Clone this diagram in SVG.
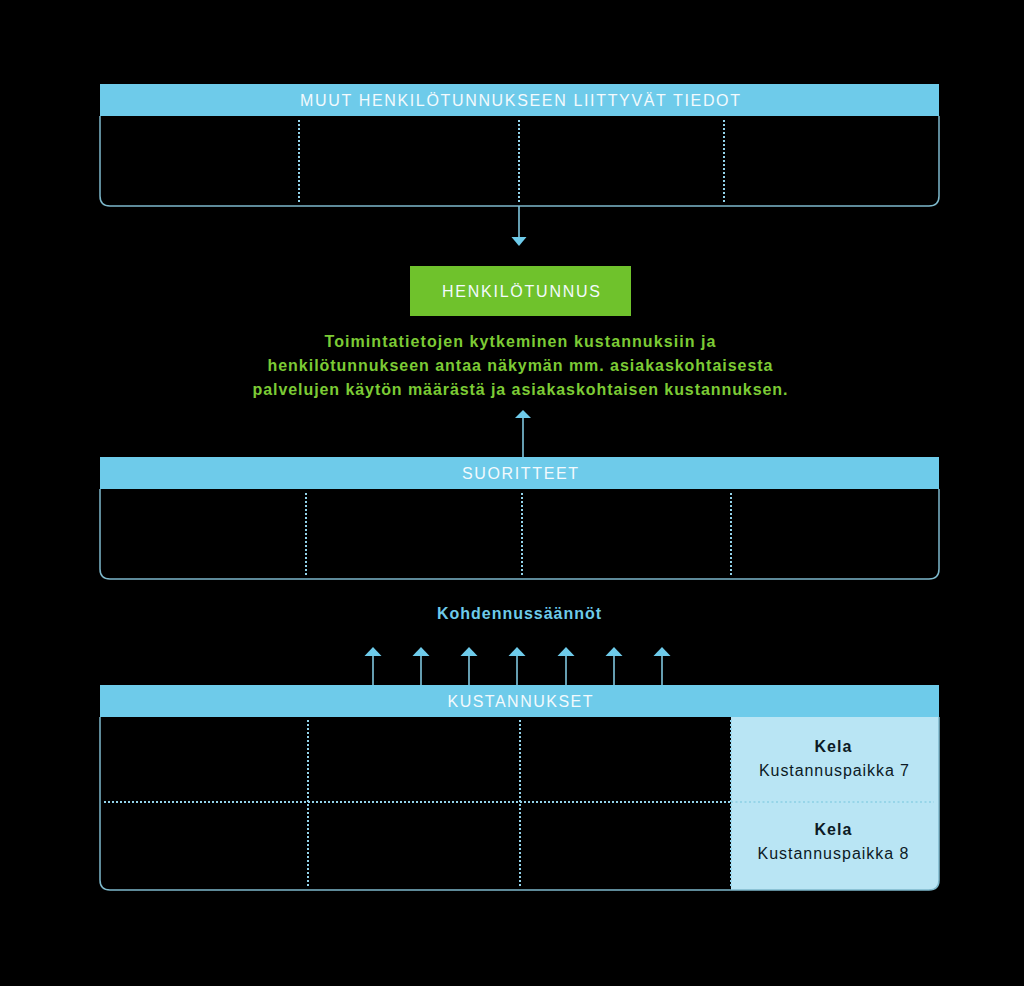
<svg xmlns="http://www.w3.org/2000/svg" width="1024" height="986" viewBox="0 0 1024 986">
<defs>
<style>
.hdr{fill:#6ECBEA}
.outline{fill:none;stroke:#7DB8CB;stroke-width:1.5}
.dot{stroke:#93D3EA;stroke-width:2;stroke-dasharray:2 2;fill:none}
.conn{stroke:#7FC6DE;stroke-width:1.6;fill:none}
.head{fill:#6ECBEA}
.htxt{font-family:"Liberation Sans",Arial,sans-serif;font-size:16px;fill:#F3FAFD;text-anchor:middle}
.gtxt{font-family:"Liberation Sans",Arial,sans-serif;font-size:16px;font-weight:bold;fill:#7CCB35;text-anchor:middle}
.btxt{font-family:"Liberation Sans",Arial,sans-serif;font-size:16px;font-weight:bold;fill:#6ECBEA;text-anchor:middle}
.ktxt{font-family:"Liberation Sans",Arial,sans-serif;font-size:16px;fill:#0C1A24;text-anchor:middle}
</style>
</defs>
<rect width="1024" height="986" fill="#000"/>

<g id="muut-tiedot">
<rect class="hdr" x="100" y="84" width="839" height="32"/>
<path class="outline" d="M100,116 V196 Q100,206 110,206 H929 Q939,206 939,196 V116"/>
<line class="dot" x1="299" y1="120" x2="299" y2="203"/>
<line class="dot" x1="519" y1="120" x2="519" y2="203"/>
<line class="dot" x1="724" y1="120" x2="724" y2="203"/>
<text class="htxt" x="520" y="106" textLength="440" lengthAdjust="spacing">MUUT HENKILÖTUNNUKSEEN LIITTYVÄT TIEDOT</text>
</g>

<g id="henkilotunnus">
<rect x="410" y="266" width="221" height="50" fill="#6FC22C"/>
<text class="htxt" x="521" y="297" textLength="158" lengthAdjust="spacing">HENKILÖTUNNUS</text>
</g>

<g id="selite">
<text class="gtxt" x="520" y="347" textLength="391" lengthAdjust="spacing">Toimintatietojen kytkeminen kustannuksiin ja</text>
<text class="gtxt" x="520" y="371" textLength="505" lengthAdjust="spacing">henkilötunnukseen antaa näkymän mm. asiakaskohtaisesta</text>
<text class="gtxt" x="520" y="395" textLength="535" lengthAdjust="spacing">palvelujen käytön määrästä ja asiakaskohtaisen kustannuksen.</text>
</g>

<g id="suoritteet">
<rect class="hdr" x="100" y="457" width="839" height="32"/>
<path class="outline" d="M100,489 V569 Q100,579 110,579 H929 Q939,579 939,569 V489"/>
<line class="dot" x1="306" y1="493" x2="306" y2="575"/>
<line class="dot" x1="522" y1="493" x2="522" y2="575"/>
<line class="dot" x1="731" y1="493" x2="731" y2="575"/>
<text class="htxt" x="520" y="479" textLength="116" lengthAdjust="spacing">SUORITTEET</text>
</g>

<g id="kohdennussaannot">
<text class="btxt" x="519" y="619" textLength="164" lengthAdjust="spacing">Kohdennussäännöt</text>
</g>

<g id="kustannukset">
<path fill="#B9E5F4" d="M731,717 H939 V880 Q939,890 929,890 H731 Z"/>
<rect class="hdr" x="100" y="685" width="839" height="32"/>
<path class="outline" d="M100,717 V880 Q100,890 110,890 H929 Q939,890 939,880 V717"/>
<line class="dot" x1="308" y1="720" x2="308" y2="886"/>
<line class="dot" x1="520" y1="720" x2="520" y2="886"/>
<line class="dot" x1="731" y1="720" x2="731" y2="886"/>
<line class="dot" x1="104" y1="802" x2="731" y2="802"/>
<line x1="731" y1="802" x2="934" y2="802" stroke="#8CCFE4" stroke-width="1.5" stroke-dasharray="2 2.5"/>
<text class="htxt" x="520" y="707" textLength="145" lengthAdjust="spacing">KUSTANNUKSET</text>
<text class="ktxt" x="833" y="752" font-weight="bold" textLength="37" lengthAdjust="spacing">Kela</text>
<text class="ktxt" x="834" y="776" textLength="150" lengthAdjust="spacing">Kustannuspaikka 7</text>
<text class="ktxt" x="833" y="835" font-weight="bold" textLength="37" lengthAdjust="spacing">Kela</text>
<text class="ktxt" x="833" y="859" textLength="151" lengthAdjust="spacing">Kustannuspaikka 8</text>
</g>

<g id="connectors">
<line class="conn" x1="519" y1="206" x2="519" y2="238"/>
<polygon class="head" points="511.5,237 526.5,237 519,246"/>
<line class="conn" x1="523" y1="457" x2="523" y2="418"/>
<polygon class="head" points="515,418 531,418 523,410"/>
<line class="conn" x1="373" y1="685" x2="373" y2="655"/>
<polygon class="head" points="364.5,656 381.5,656 373,647"/>
<line class="conn" x1="421" y1="685" x2="421" y2="655"/>
<polygon class="head" points="412.5,656 429.5,656 421,647"/>
<line class="conn" x1="469" y1="685" x2="469" y2="655"/>
<polygon class="head" points="460.5,656 477.5,656 469,647"/>
<line class="conn" x1="517" y1="685" x2="517" y2="655"/>
<polygon class="head" points="508.5,656 525.5,656 517,647"/>
<line class="conn" x1="566" y1="685" x2="566" y2="655"/>
<polygon class="head" points="557.5,656 574.5,656 566,647"/>
<line class="conn" x1="614" y1="685" x2="614" y2="655"/>
<polygon class="head" points="605.5,656 622.5,656 614,647"/>
<line class="conn" x1="662" y1="685" x2="662" y2="655"/>
<polygon class="head" points="653.5,656 670.5,656 662,647"/>
</g>
</svg>
